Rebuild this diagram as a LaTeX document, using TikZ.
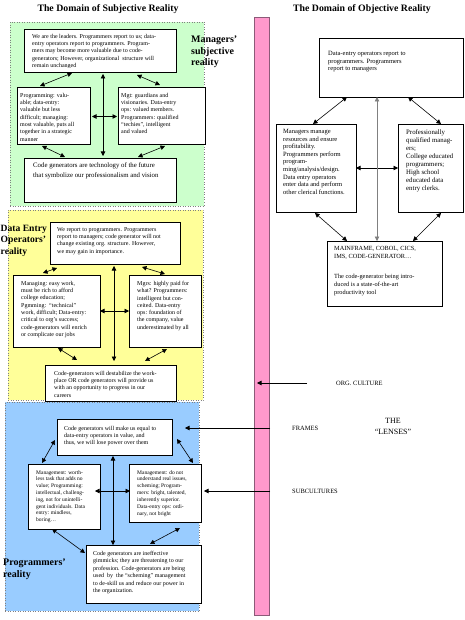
\documentclass[tikz,border=0pt]{standalone}
\usepackage{fontspec}
\setmainfont{Liberation Serif}
\usetikzlibrary{arrows.meta}

\definecolor{mgrgreen}{RGB}{204,255,204}
\definecolor{opsyellow}{RGB}{255,255,153}
\definecolor{pgmblue}{RGB}{153,204,255}
\definecolor{lenspink}{RGB}{255,153,204}
\definecolor{lensedge}{RGB}{140,90,120}

\tikzset{
  region/.style={draw=gray, dotted, line width=0.5pt, anchor=north west, inner sep=0pt, outer sep=0pt},
  bx/.style={draw, fill=white, line width=0.7pt, anchor=north west, inner sep=0pt, outer sep=0pt},
  bxtext/.style={anchor=north west, align=left, inner sep=0pt, font=\fontsize{6}{7.3}\selectfont},
  twoway/.style={{Triangle[length=4.5pt,width=4.5pt]}-{Triangle[length=4.5pt,width=4.5pt]}, line width=0.6pt},
  oneway/.style={-{Triangle[length=4.5pt,width=4.5pt]}, line width=0.6pt},
  lens/.style={font=\fontsize{6.5}{8}\selectfont, anchor=west, inner sep=0pt},
  realitylabel/.style={font=\bfseries\fontsize{10}{11.5}\selectfont, align=left, anchor=north west, inner sep=0pt},
  domaintitle/.style={font=\bfseries\fontsize{9.8}{11}\selectfont, inner sep=0pt},
}

\begin{document}
\begin{tikzpicture}[x=1pt, y=-1pt]
    \useasboundingbox (0,0) rectangle (464,620);

    % Titles
    \node[domaintitle] (subjtitle) at (108,9) {The Domain of Subjective Reality};
    \node[domaintitle] (objtitle) at (362,9) {The Domain of Objective Reality};

    % The three subjective realities (shaded areas)
    \node[region, fill=mgrgreen, minimum width=194pt, minimum height=184pt] (mgrarea) at (10,22) {};
    \node[region, fill=opsyellow, minimum width=195pt, minimum height=190pt] (opsarea) at (8,210) {};
    \node[region, fill=pgmblue, minimum width=194pt, minimum height=209pt] (pgmarea) at (5,402) {};

    \node[realitylabel] (mgrlabel) at (191,36) {Managers'\\subjective\\reality};
    \node[realitylabel, font=\bfseries\fontsize{9.6}{11.5}\selectfont] (opslabel) at (0.5,225) {Data Entry\\Operators'\\reality};
    \node[realitylabel] (pgmlabel) at (3,559) {Programmers'\\reality};

    % Managers' boxes
    \node[bx, minimum width=152pt, minimum height=43pt] (gtop) at (24,29) {};
    \node[bx, minimum width=73pt, minimum height=57pt] (gleft) at (17,87) {};
    \node[bx, minimum width=87pt, minimum height=57pt] (gright) at (118,87) {};
    \node[bx, minimum width=152pt, minimum height=44pt] (gbot) at (24,158) {};
    \begin{scope}
      \clip ([yshift=4pt]gtop.south west) rectangle (gtop.north east);
      \node[bxtext] (gtoptext) at (32,34) {We are the leaders. Programmers report to us; data-\\entry operators report to programmers. Program-\\mers may become more valuable due to code-\\generators; However, organizational\ \ structure will\\remain unchanged};
    \end{scope}
    \node[bxtext] (glefttext) at (20,93) {Programming: valu-\\able; data-entry:\\valuable but less\\difficult; managing:\\most valuable, puts all\\together in a strategic\\manner};
    \node[bxtext] (grighttext) at (121,93) {Mgt: guardians and\\visionaries. Data-entry\\ops: valued members.\\Programmers: qualified\\“techies”, intelligent\\and valued};
    \node[bxtext, font=\fontsize{6.8}{10}\selectfont] (gbottext) at (33,163) {Code generators are technology of the future\\that symbolize our professionalism and vision};

    \draw[twoway] ([xshift=48pt,yshift=-1pt]gtop.south west) -- ([xshift=23pt,yshift=1pt]gleft.north west);
    \draw[twoway] ([xshift=113pt,yshift=-3pt]gtop.south west) -- ([xshift=42pt,yshift=2pt]gright.north west);
    \draw[twoway] ([xshift=2pt,yshift=-1pt]gleft.east) -- ([xshift=-1pt,yshift=-1pt]gright.west);
    \draw[twoway] ([xshift=79pt,yshift=-2pt]gtop.south west) -- ([xshift=79pt,yshift=2pt]gbot.north west);
    \draw[twoway] ([xshift=25pt,yshift=-2pt]gleft.south west) -- ([xshift=41pt,yshift=1pt]gbot.north west);
    \draw[twoway] ([xshift=114pt,yshift=1pt]gbot.north west) -- ([xshift=47pt,yshift=-2pt]gright.south west);

    % Data entry operators' boxes
    \node[bx, minimum width=130pt, minimum height=42pt] (ytop) at (50,222) {};
    \node[bx, minimum width=87pt, minimum height=72pt] (yleft) at (13,275) {};
    \node[bx, minimum width=72pt, minimum height=72pt] (yright) at (129,275) {};
    \node[bx, minimum width=131pt, minimum height=36pt] (ybot) at (45,365) {};
    \node[bxtext] (ytoptext) at (57,227) {We report to programmers. Programmers\\report to managers; code generator will not\\change existing org. structure. However,\\we may gain in importance.};
    \node[bxtext] (ylefttext) at (21,281) {Managing: easy work,\\must be rich to afford\\college education;\\Pgmming:\ \ “technical”\\work, difficult; Data-entry:\\critical to org’s success;\\code-generators will enrich\\or complicate our jobs};
    \node[bxtext] (yrighttext) at (137,281) {Mgrs: highly paid for\\what? Programmers:\\intelligent but con-\\ceited. Data-entry\\ops: foundation of\\the company, value\\underestimated by all};
    \node[bxtext] (ybottext) at (54,371) {Code-generators will destabilize the work-\\place OR code generators will provide us\\with an opportunity to progress in our\\careers};

    \draw[twoway] ([xshift=7pt,yshift=-4pt]ytop.south west) -- ([xshift=30pt,yshift=2pt]yleft.north west);
    \draw[twoway] ([xshift=92pt,yshift=-3pt]ytop.south west) -- ([xshift=36pt,yshift=1pt]yright.north west);
    \draw[twoway] (yleft.east) -- (yright.west);
    \draw[twoway] ([xshift=64pt,yshift=-2pt]ytop.south west) -- ([xshift=69pt,yshift=4pt]ybot.north west);
    \draw[twoway] ([xshift=45pt,yshift=-1pt]yleft.south west) -- ([xshift=32pt,yshift=5pt]ybot.north west);
    \draw[twoway] ([xshift=100pt,yshift=4pt]ybot.north west) -- ([xshift=38pt,yshift=-2pt]yright.south west);

    % Programmers' boxes
    \node[bx, minimum width=115pt, minimum height=36pt] (btop) at (57,419) {};
    \node[bx, minimum width=72pt, minimum height=65pt] (bleft) at (28,464) {};
    \node[bx, minimum width=72pt, minimum height=58pt] (bright) at (129,464) {};
    \node[bx, minimum width=115pt, minimum height=58pt] (bbot) at (86,545) {};
    \node[bxtext] (btoptext) at (64,426) {Code generators will make us equal to\\data-entry operators in value, and\\thus, we will lose power over them};
    \node[bxtext, font=\fontsize{5.5}{6.8}\selectfont] (blefttext) at (36,470) {Management: worth-\\less task that adds no\\value; Programming:\\intellectual, challeng-\\ing, not for unintelli-\\gent individuals. Data\\entry: mindless,\\boring…};
    \node[bxtext, font=\fontsize{5.5}{6.9}\selectfont] (brighttext) at (137,470) {Management: do not\\understand real issues,\\scheming; Program-\\mers: bright, talented,\\inherently superior.\\Data-entry ops: ordi-\\nary, not bright};
    \node[bxtext, font=\fontsize{6}{7.5}\selectfont] (bbottext) at (93,551) {Code generators are ineffective\\gimmicks; they are threatening to our\\profession. Code-generators are being\\used\ \ by\ \ the “scheming” management\\to de-skill us and reduce our power in\\the organization.};

    \draw[twoway] ([xshift=-2pt,yshift=-3pt]btop.west) -- ([xshift=14pt,yshift=1pt]bleft.north west);
    \draw[twoway] ([xshift=5pt,yshift=-2pt]btop.east) -- ([xshift=64pt,yshift=1pt]bright.north west);
    \draw[twoway] ([xshift=-5pt,yshift=5.5pt]bleft.east) -- ([xshift=1pt,yshift=2pt]bright.west);
    \draw[twoway] ([xshift=56pt,yshift=-1pt]btop.south west) -- ([xshift=27pt]bbot.north west);
    \draw[twoway] ([xshift=24pt]bleft.south west) -- ([xshift=-1pt,yshift=-8pt]bbot.north west);
    \draw[twoway] ([xshift=64pt,yshift=1pt]bbot.north west) -- ([xshift=51pt,yshift=-6pt]bright.south west);

    % The lenses
    \node[draw=lensedge, fill=lenspink, line width=1pt, anchor=north west, minimum width=15pt, minimum height=598pt, inner sep=0pt] (lensbar) at (254,17) {};

    % Objective reality boxes
    \node[bx, minimum width=144pt, minimum height=59pt] (otop) at (319,38) {};
    \node[bx, minimum width=80pt, minimum height=88pt] (oleft) at (276,124) {};
    \node[bx, minimum width=65pt, minimum height=88pt] (oright) at (398,124) {};
    \node[bx, minimum width=115pt, minimum height=65pt] (obot) at (327,241) {};
    \node[bxtext, font=\fontsize{6.5}{7.7}\selectfont] (otoptext) at (328,51) {Data-entry operators report to\\programmers. Programmers\\report to managers};
    \node[bxtext, font=\fontsize{6.5}{7.6}\selectfont] (olefttext) at (283,129) {Managers manage\\resources and ensure\\profitability.\\Programmers perform\\program-\\ming/analysis/design.\\Data entry operators\\enter data and perform\\other clerical functions.};
    \node[bxtext, font=\fontsize{6.8}{8}\selectfont] (orighttext) at (406,130) {Professionally\\qualified manag-\\ers;\\College educated\\programmers;\\High school\\educated data\\entry clerks.};
    \node[bxtext, font=\fontsize{6.3}{7.7}\selectfont] (obottext) at (334,246) {MAINFRAME, COBOL, CICS,\\IMS, CODE-GENERATOR…\\[13pt]The code-generator being intro-\\duced is a state-of-the-art\\productivity tool};

    \draw[twoway] ([xshift=28pt]otop.south west) -- ([xshift=37pt]oleft.north west);
    \draw[twoway] ([xshift=89pt]otop.south west) -- ([xshift=43pt]oright.north west);
    \draw[twoway] (oleft.east) -- (oright.west);
    \draw[twoway, draw=gray] ([xshift=58pt]otop.south west) -- ([xshift=50pt]obot.north west);
    \draw[twoway] ([xshift=39pt,yshift=-1pt]oleft.south west) -- ([xshift=20pt]obot.north west);
    \draw[twoway] ([xshift=43pt,yshift=-1pt]oright.south west) -- ([xshift=86pt]obot.north west);

    % Lens names
    \node[lens] (orgculture) at (336,383) {ORG. CULTURE};
    \node[lens] (frames) at (292,428) {FRAMES};
    \node[lens] (subcultures) at (292,491) {SUBCULTURES};
    \node[font=\fontsize{8}{11}\selectfont, align=center, inner sep=0pt] (lenses) at (393,426) {THE\\“LENSES”};

    \coordinate (orgtail) at (307,383);
    \draw[oneway] (orgtail) -- ([xshift=3pt]lensbar.west |- orgtail);
    \draw[oneway] (lensbar.east |- frames.west) -- ([xshift=-14pt]pgmarea.east |- frames.west);
    \draw[oneway] (lensbar.east |- subcultures.west) -- ([xshift=5pt]pgmarea.east |- subcultures.west);
\end{tikzpicture}
\end{document}
